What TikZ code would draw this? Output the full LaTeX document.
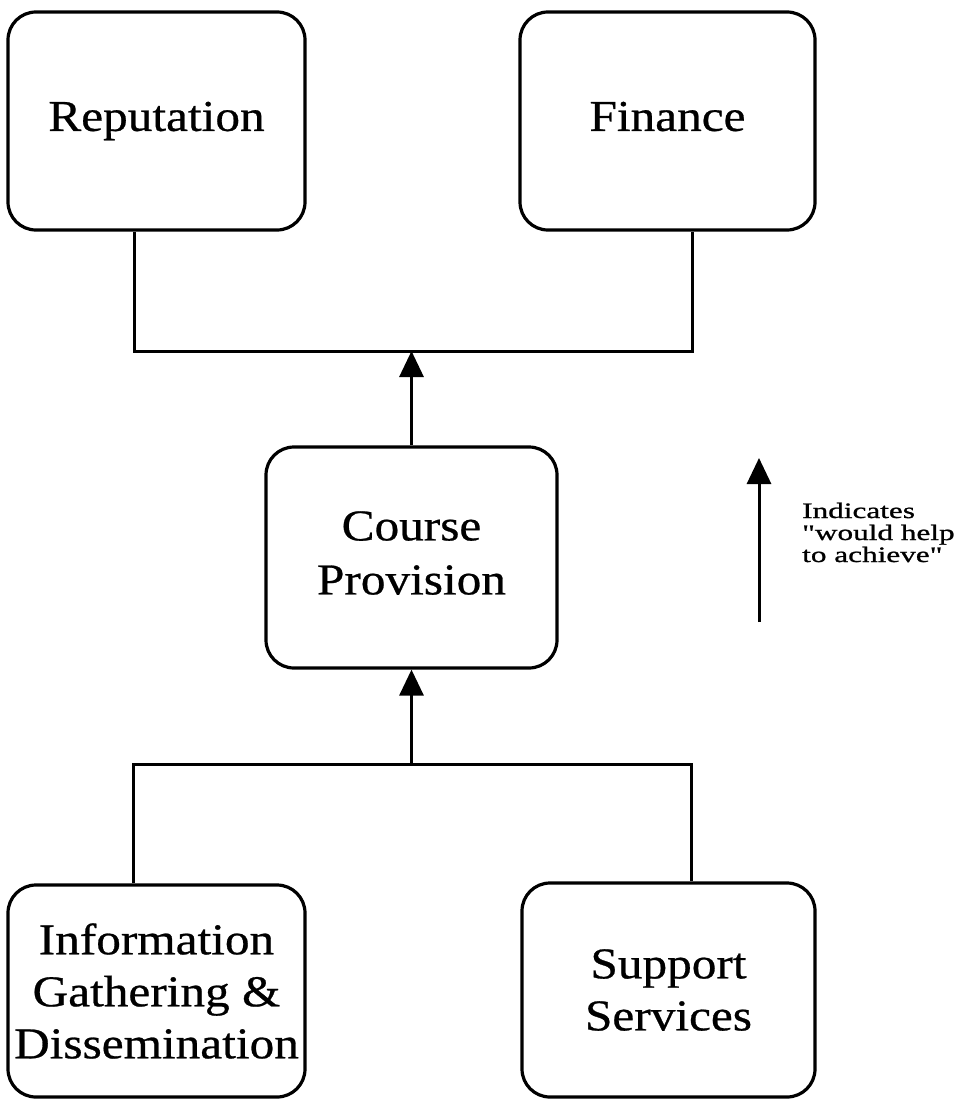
\documentclass[tikz,border=0pt]{standalone}
\usepackage{fontspec}
\setmainfont{Liberation Serif}[FakeStretch=1.12, FakeBold=0.6]
\newfontfamily\legendfont{Liberation Serif}[FakeStretch=1.42, FakeBold=1]
\usetikzlibrary{arrows.meta}
\begin{document}
\begin{tikzpicture}[x=1pt,y=-1pt,
  goalbox/.style={draw, line width=3.2pt, rounded corners=28pt, inner sep=0pt,
    align=center, font=\fontsize{44}{52}\selectfont},
  link/.style={line width=3pt},
  helps/.style={line width=3pt, -{Triangle[length=26pt,width=24pt]}},
]
\useasboundingbox (0,0) rectangle (968,1099);

% goals at the top
\node[goalbox, minimum width=297pt, minimum height=218pt] (rep) at (156.5,121) {Reputation};
\node[goalbox, minimum width=295pt, minimum height=218pt] (fin) at (667.5,121) {Finance\vphantom{p}};

% central activity
\node[goalbox, minimum width=291pt, minimum height=221pt] (course) at (411.5,557.5)
  {Course\\[2pt]Provision\vphantom{p}};

% supporting activities
\node[goalbox, minimum width=297pt, minimum height=212pt] (info) at (156.5,991)
  {Information\\Gathering \&\\Dissemination};
\node[goalbox, minimum width=293pt, minimum height=214pt] (sup) at (668.5,990)
  {Support\\Services};

% junction points of the bus lines
\coordinate (tl) at (134,351);
\coordinate (tr) at (692,351);
\coordinate (bl) at (133,764);
\coordinate (br) at (691,764);

\draw[link] (rep.south -| tl) -- (tl) -- (tr) -- (fin.south -| tr);
\draw[helps] (course.north) -- (course.north |- tl);
\draw[link] (info.north -| bl) -- (bl) -- (br) -- (sup.north -| br);
\draw[helps] (course.south |- bl) -- (course.south);

% key
\coordinate (keybot) at (759,622);
\coordinate (keytop) at (759,458);
\draw[helps] (keybot) -- (keytop);
\node[anchor=base west, align=left, inner sep=0pt,
  font=\legendfont\fontsize{22}{22}\selectfont] (key) at (802,562)
  {Indicates\\"would help\\to achieve"};
\end{tikzpicture}
\end{document}
